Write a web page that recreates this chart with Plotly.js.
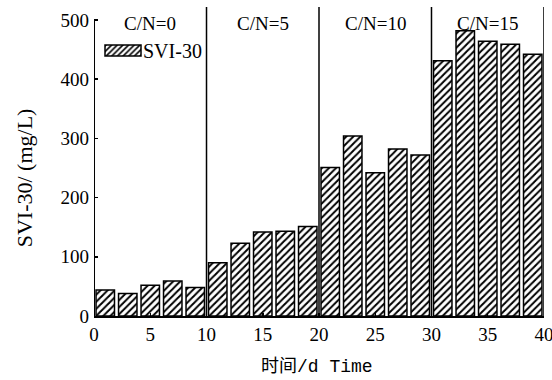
<!DOCTYPE html>
<html>
<head>
<meta charset="utf-8">
<script src="https://cdn.plot.ly/plotly-3.0.1.min.js"></script>
<style>html,body{margin:0;padding:0;background:#fff;}#chart{width:552px;height:380px;}</style>
</head>
<body>
<div id="chart"></div>
<script>
// Day midpoints (each bar spans 2 days)
const days = [1, 3, 5, 7, 9, 11, 13, 15, 17, 19, 21, 23, 25, 27, 29, 31, 33, 35, 37, 39];
// SVI-30 values (mg/L)
const svi30 = [44, 38, 52, 59, 48, 90, 123, 142, 143, 151, 251, 304, 242, 282, 272, 431, 482, 464, 459, 442];
// Phase labels and their day ranges
const phaseLabels = ['C/N=0', 'C/N=5', 'C/N=10', 'C/N=15'];
const phaseStart = [0, 10, 20, 30];
const phaseEnd = [10, 20, 30, 40];
const xTicks = [0, 5, 10, 15, 20, 25, 30, 35, 40];
const yTicks = [0, 100, 200, 300, 400, 500];

const serif = 'Liberation Serif, Times New Roman, serif';

const trace = {
  type: 'bar',
  x: days,
  y: svi30,
  name: 'SVI-30',
  marker: {
    color: '#ffffff',
    line: {color: '#000000', width: 1.5},
    pattern: {shape: '/', fgcolor: '#000000', bgcolor: '#ffffff', size: 5, solidity: 0.4}
  },
  hoverinfo: 'skip'
};

const shapes = [];
phaseEnd.forEach(v => {
  shapes.push({type: 'line', xref: 'x', yref: 'paper', x0: v, x1: v, y0: 0, y1: 1,
    line: {color: '#000', width: 1.5}, layer: 'above'});
});
// left axis line only up to the top tick
shapes.push({type: 'line', xref: 'x', yref: 'y', x0: 0, x1: 0, y0: yTicks[0], y1: yTicks[yTicks.length - 1],
  line: {color: '#000', width: 2}, layer: 'above'});

const annotations = phaseLabels.map((t, i) => ({
  text: t, xref: 'x', yref: 'y', x: (phaseStart[i] + phaseEnd[i]) / 2, y: 494,
  showarrow: false, xanchor: 'center', yanchor: 'middle',
  font: {family: serif, size: 19, color: '#000'}
}));
annotations.push({
  text: 'SVI-30/ (mg/L)', xref: 'paper', yref: 'paper', x: -0.154, y: 0.448,
  textangle: -90, showarrow: false, xanchor: 'center', yanchor: 'middle',
  font: {family: serif, size: 22, color: '#000'}
});
annotations.push({
  text: '时间/d Time', xref: 'paper', yref: 'paper', x: 0.495, y: -0.162,
  showarrow: false, xanchor: 'center', yanchor: 'middle',
  font: {family: 'Liberation Mono, Noto Sans CJK SC, monospace', size: 18, color: '#000'}
});

const layout = {
  width: 552, height: 380,
  margin: {l: 94, r: 8, t: 7, b: 64},
  paper_bgcolor: '#fff', plot_bgcolor: '#fff',
  bargap: 0.18,
  showlegend: true,
  legend: {x: 0.02, y: 0.859, xanchor: 'left', yanchor: 'middle', bgcolor: 'rgba(0,0,0,0)',
    font: {family: serif, size: 20, color: '#000'}},
  xaxis: {
    range: [-0.001, 40.001], tickvals: xTicks, ticktext: xTicks.map(String),
    showline: true, linecolor: '#000', linewidth: 2, ticks: 'inside', ticklen: 3, tickwidth: 1.5, tickcolor: '#000',
    showgrid: false, zeroline: false, ticklabeloverflow: 'allow',
    tickfont: {family: serif, size: 19, color: '#000'}
  },
  yaxis: {
    range: [0, 522], tickvals: yTicks, ticktext: yTicks.map(String),
    showline: false, ticks: 'inside', ticklen: 4, tickwidth: 1.5, tickcolor: '#000',
    showgrid: false, zeroline: false, ticklabelstandoff: 4,
    tickfont: {family: serif, size: 19, color: '#000'}
  },
  shapes: shapes,
  annotations: annotations
};

Plotly.newPlot('chart', [trace], layout, {displayModeBar: false, staticPlot: true}).then(() => {
  document.querySelectorAll('#chart .legend .legendpoints path').forEach(p => {
    p.setAttribute('d', 'M18,5.5H-18V-5.5H18Z');
  });
});
</script>
</body>
</html>
